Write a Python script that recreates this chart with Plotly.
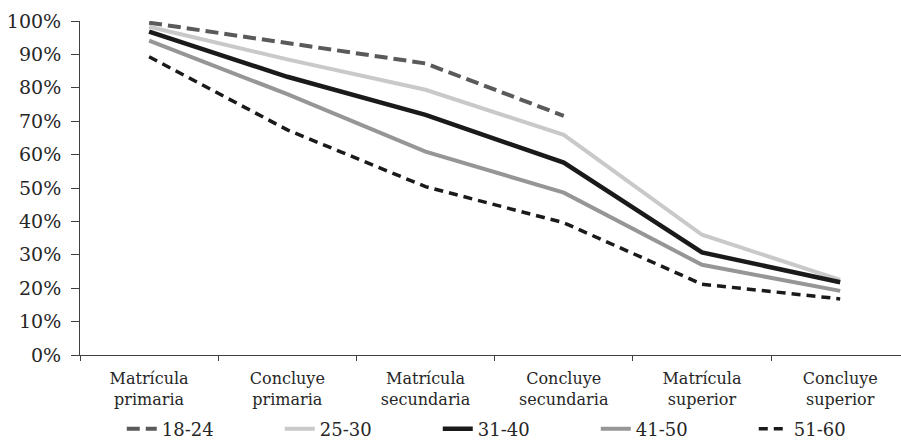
import plotly.graph_objects as go

# Education attainment by age group
categories = [
    "Matrícula<br>primaria",
    "Concluye<br>primaria",
    "Matrícula<br>secundaria",
    "Concluye<br>secundaria",
    "Matrícula<br>superior",
    "Concluye<br>superior",
]

age_18_24 = [0.995, 0.933, 0.873, 0.716, None, None]
age_25_30 = [0.983, 0.885, 0.794, 0.659, 0.360, 0.225]
age_31_40 = [0.968, 0.833, 0.719, 0.576, 0.307, 0.218]
age_41_50 = [0.941, 0.781, 0.609, 0.486, 0.270, 0.192]
age_51_60 = [0.893, 0.674, 0.504, 0.396, 0.212, 0.168]

series_names = ["18-24", "25-30", "31-40", "41-50", "51-60"]

styles = [
    dict(color="#5a5a5a", width=4, dash="13px,6px"),
    dict(color="#c9c9c9", width=4, dash="solid"),
    dict(color="#1a1a1a", width=4.5, dash="solid"),
    dict(color="#969696", width=4, dash="solid"),
    dict(color="#1a1a1a", width=3.5, dash="9px,6px"),
]

fig = go.Figure()
for name, vals, st in zip(series_names,
                          [age_18_24, age_25_30, age_31_40, age_41_50, age_51_60],
                          styles):
    fig.add_trace(go.Scatter(
        x=categories, y=vals, name=name, mode="lines",
        line=dict(color=st["color"], width=st["width"], dash=st["dash"]),
        connectgaps=False,
    ))

font_family = "DejaVu Serif"
text_color = "#262626"

fig.update_layout(
    width=901, height=440,
    margin=dict(l=80, r=0, t=21, b=85, autoexpand=False),
    plot_bgcolor="white", paper_bgcolor="white",
    font=dict(family=font_family, size=16, color=text_color),
    showlegend=True,
    legend=dict(
        orientation="h", x=0.532, xanchor="center", y=-0.222, yanchor="middle",
        font=dict(size=18), entrywidth=113, entrywidthmode="pixels",
        traceorder="normal",
    ),
    xaxis=dict(
        type="category", range=[-0.5, 5.44],
        showline=True, linecolor="#404040", linewidth=1,
        ticks="outside", ticklen=5, tickcolor="#404040", tickson="boundaries",
        showgrid=False, zeroline=False,
        tickfont=dict(size=16), ticklabelstandoff=9,
    ),
    yaxis=dict(
        range=[0, 1], tickformat=".0%", dtick=0.1,
        showline=True, linecolor="#404040", linewidth=1,
        ticks="outside", ticklen=8, tickcolor="#404040",
        showgrid=False, zeroline=False,
        tickfont=dict(size=19), ticklabelstandoff=6,
    ),
)

fig.write_html("out.html")
